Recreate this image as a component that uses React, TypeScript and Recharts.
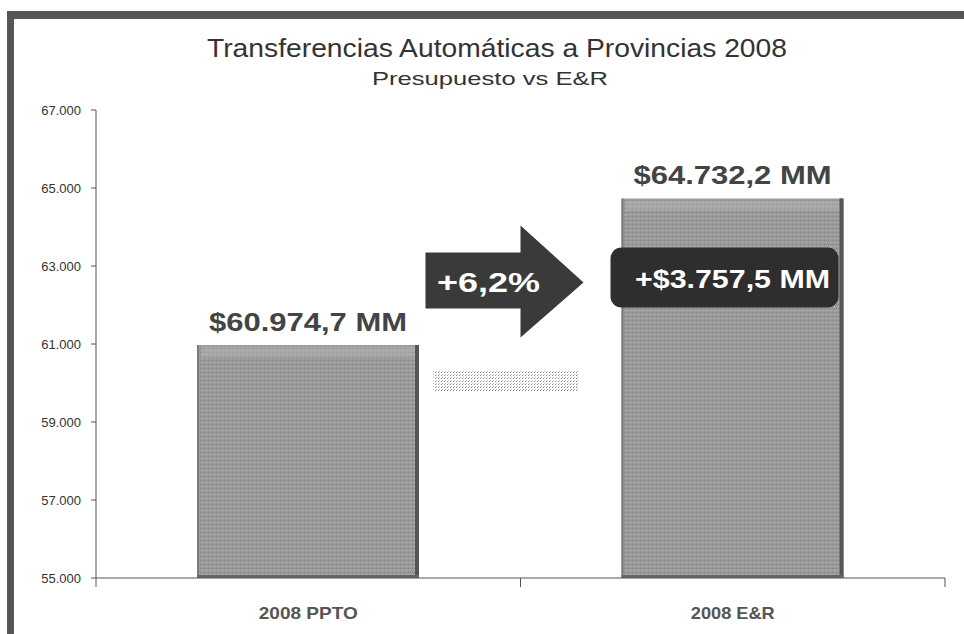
import React from 'react';
import { BarChart, Bar, XAxis, YAxis, LabelList } from 'recharts';

const categories = ['2008 PPTO', '2008 E&R'];
const amounts = [60974.7, 64732.2]; // millones de $
const yTicks = [55000, 57000, 59000, 61000, 63000, 65000, 67000];

const data = categories.map((name, i) => ({ name, value: amounts[i] }));

// 60974.7 -> "60.974,7"
const fmt = (v: number, d = 0) => {
    const [int, frac] = v.toFixed(d).split('.');
    return int.replace(/\B(?=(\d{3})+(?!\d))/g, '.') + (frac ? ',' + frac : '');
};

const diff = amounts[1] - amounts[0];
const pct = (amounts[1] / amounts[0] - 1) * 100;

const LABEL_FONT = '"Liberation Sans", Arial, sans-serif';

const BarShape = (props: any) => {
    const { x, y, width, height } = props;
    return (
        <g>
            <rect x={x} y={y} width={width} height={height} fill="url(#grain)" />
            <rect x={x + 4} y={y + 2} width={width - 8} height={10} fill="#b3b3b3" opacity={0.5} />
            <rect x={x} y={y} width={2} height={height} fill="#7a7a7a" />
            <rect x={x + width - 4} y={y} width={4} height={height} fill="#555" />
            <rect x={x} y={y + height - 3} width={width} height={3} fill="#666" />
        </g>
    );
};

const BarLabel = (props: any) => {
    const { x, y, width, value, index } = props;
    const cx = x + width / 2;
    return (
        <g>
            <text x={cx} y={y - 14} textAnchor="middle" fontFamily={LABEL_FONT} fontWeight="bold"
                fontSize={25} fill="#444" textLength={198} lengthAdjust="spacingAndGlyphs">
                {`$${fmt(value, 1)} MM`}
            </text>
            {index === 0 && (
                <rect x={x + width + 14} y={y + 25} width={146} height={22} fill="url(#dots)" />
            )}
            {index === 1 && (
                <g>
                    <path
                        d={`M${x - 196},${y + 54} L${x - 101},${y + 54} L${x - 101},${y + 27} L${x - 38},${y + 84}
                            L${x - 101},${y + 139} L${x - 101},${y + 110} L${x - 196},${y + 110} Z`}
                        fill="#3a3a3a"
                    />
                    <text x={x - 133} y={y + 94} textAnchor="middle" fontFamily={LABEL_FONT} fontWeight="bold"
                        fontSize={28} fill="#fff" textLength={103} lengthAdjust="spacingAndGlyphs">
                        {`+${fmt(pct, 1)}%`}
                    </text>
                    <rect x={x - 11} y={y + 49} width={228} height={60} rx={11} fill="#2e2e2e" />
                    <text x={cx} y={y + 90} textAnchor="middle" fontFamily={LABEL_FONT} fontWeight="bold"
                        fontSize={26} fill="#fff" textLength={195} lengthAdjust="spacingAndGlyphs">
                        {`+$${fmt(diff, 1)} MM`}
                    </text>
                </g>
            )}
        </g>
    );
};

const CategoryTick = (props: any) => {
    const { x, y, payload, index } = props;
    const half = payload.offset ?? 0;
    return (
        <g>
            <line x1={x - half} y1={y - 8} x2={x - half} y2={y + 1} stroke="#555" />
            {index === categories.length - 1 && (
                <line x1={x + half} y1={y - 8} x2={x + half} y2={y + 1} stroke="#555" />
            )}
            <text x={x} y={y + 33} textAnchor="middle" fontFamily={LABEL_FONT} fontWeight="bold"
                fontSize={17} fill="#555" textLength={index === 0 ? 99 : 84} lengthAdjust="spacingAndGlyphs">
                {payload.value}
            </text>
        </g>
    );
};

export default function App() {
    return (
        <div style={{ position: 'absolute', left: 0, top: 0, width: 964, height: 634, background: '#fff' }}>
            <svg width={964} height={634} style={{ position: 'absolute', left: 0, top: 0 }}>
                <rect x={7} y={11} width={957} height={8} fill="#555" />
                <rect x={7} y={11} width={7} height={623} fill="#555" />
                <text x={497} y={57} textAnchor="middle" fontFamily={LABEL_FONT} fontSize={26} fill="#333"
                    textLength={580} lengthAdjust="spacingAndGlyphs">
                    Transferencias Automáticas a Provincias 2008
                </text>
                <text x={490} y={85} textAnchor="middle" fontFamily={LABEL_FONT} fontSize={19} fill="#333"
                    textLength={236} lengthAdjust="spacingAndGlyphs">
                    Presupuesto vs E&amp;R
                </text>
            </svg>
            <div style={{ position: 'absolute', left: 0, top: 0 }}>
                <BarChart width={964} height={634} data={data}
                    margin={{ top: 110, right: 19, bottom: 0, left: 0 }}>
                    <defs>
                        <pattern id="grain" width={4} height={4} patternUnits="userSpaceOnUse">
                            <rect width={4} height={4} fill="#9c9c9c" />
                            <rect x={0} y={0} width={1} height={1} fill="#7e7e7e" />
                            <rect x={2} y={2} width={1} height={1} fill="#b4b4b4" />
                            <rect x={2} y={0} width={1} height={1} fill="#8a8a8a" />
                        </pattern>
                        <pattern id="dots" width={3} height={3} patternUnits="userSpaceOnUse">
                            <rect x={0} y={0} width={1} height={1} fill="#888" />
                            <rect x={1} y={2} width={1} height={1} fill="#bbb" />
                        </pattern>
                    </defs>
                    <YAxis
                        domain={[55000, 67000]}
                        ticks={yTicks}
                        width={96}
                        tickFormatter={(v: number) => fmt(v)}
                        tick={{ fill: '#333', fontSize: 13, fontFamily: LABEL_FONT }}
                        axisLine={{ stroke: '#555' }}
                        tickLine={{ stroke: '#555' }}
                        tickSize={5}
                        tickMargin={10}
                        allowDataOverflow
                    />
                    <XAxis
                        dataKey="name"
                        height={56}
                        axisLine={{ stroke: '#555' }}
                        tickLine={false}
                        tick={<CategoryTick />}
                        interval={0}
                    />
                    <Bar dataKey="value" barSize={222} shape={<BarShape />} isAnimationActive={false}>
                        <LabelList dataKey="value" content={<BarLabel />} />
                    </Bar>
                </BarChart>
            </div>
        </div>
    );
}
